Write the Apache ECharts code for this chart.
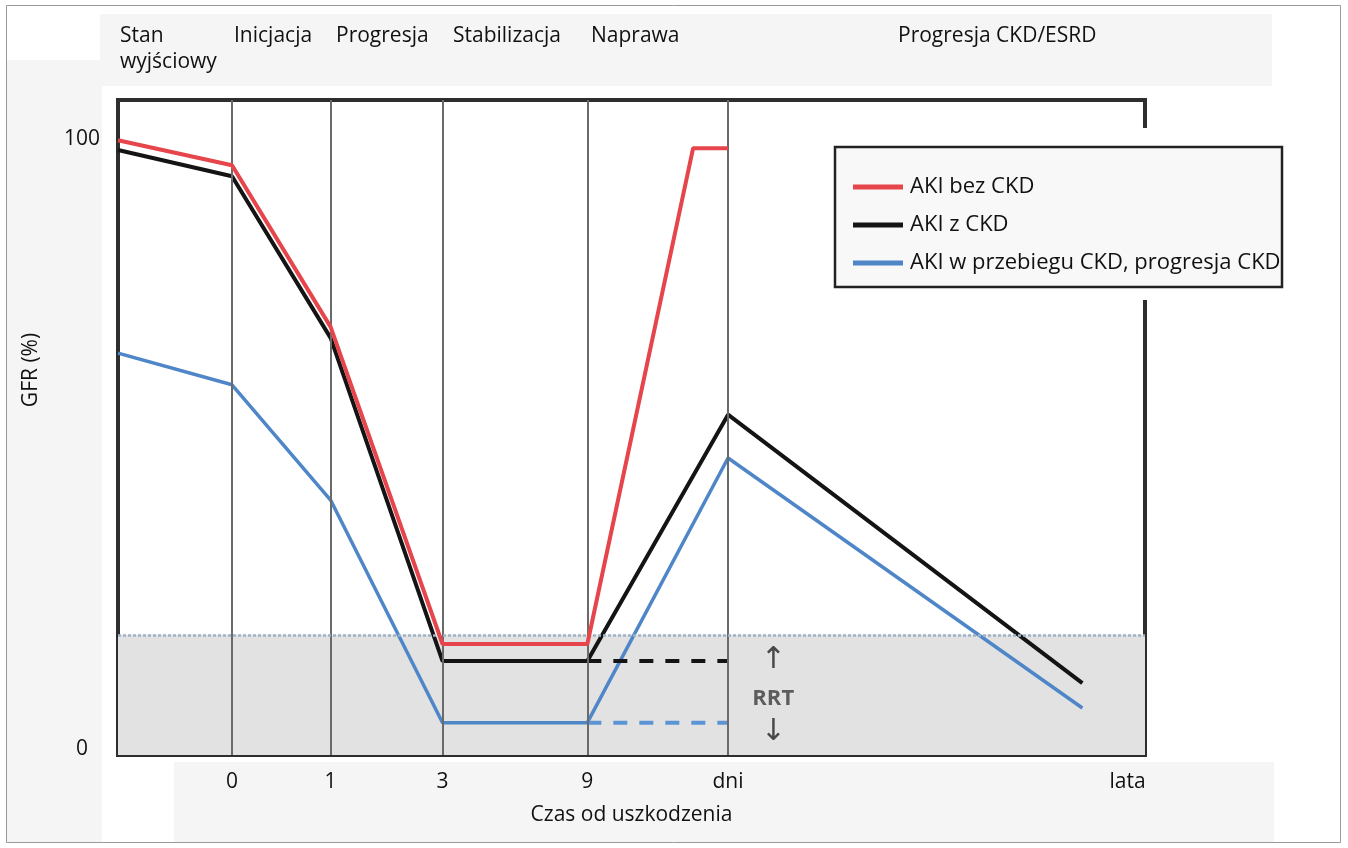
<!DOCTYPE html>
<html>
<head>
<meta charset="utf-8">
<script src="https://cdn.jsdelivr.net/npm/echarts@6/dist/echarts.min.js"></script>
<style>
html,body{margin:0;padding:0;background:#fff;}
#chart{width:1348px;height:848px;}
</style>
</head>
<body>
<div id="chart"></div>
<script>
// ---- data ----
const xTickLabels = ['0', '1', '3', '9', 'dni', 'lata'];
const xTickPos = [11.1, 20.7, 31.6, 45.7, 59.4, 98.3];
const stageLines = [11.1, 20.7, 31.6, 45.7, 59.4];
const stageNames = ['Stan\nwyjściowy', 'Inicjacja', 'Progresja', 'Stabilizacja', 'Naprawa', 'Progresja CKD/ESRD'];
const yTickVals = [0, 100];

const redX = [0, 11.1, 20.7, 31.6, 45.7, 56.0, 59.4];
const redY = [99.8, 95.7, 69.2, 17.2, 17.2, 98.5, 98.5];
const blackX = [0, 11.1, 20.7, 31.6, 45.7, 59.4, 93.9];
const blackY = [98.2, 93.9, 67.4, 14.4, 14.4, 54.8, 10.8];
const blueX = [0, 11.1, 20.7, 31.6, 45.7, 59.4, 93.9];
const blueY = [64.9, 59.7, 40.8, 4.3, 4.3, 47.7, 6.7];
const dashX = [45.7, 59.4];
const blackDashY = [14.4, 14.4];
const blueDashY = [4.3, 4.3];
const rrtLevel = 18.7;
const rrtX = 63.8;
const rrtMarks = [['↑', 14.6], ['RRT', 8.2], ['↓', 2.8]];

const seriesNames = ['AKI bez CKD', 'AKI z CKD', 'AKI w przebiegu CKD, progresja CKD'];
const RED = '#e5454b', BLACK = '#141414', BLUE = '#4f86c8';
const FONT = 'Open Sans';

const zip = (xs, ys) => xs.map((x, i) => [x, ys[i]]);

const chart = echarts.init(document.getElementById('chart'), null, {renderer: 'canvas'});

const headerLeft = [120, 234, 336, 453, 591, 898];

const graphics = [
  // light grey panels of the original figure
  {type: 'rect', z: -10, shape: {x: 100, y: 14, width: 1172, height: 72}, style: {fill: '#f5f5f5'}},
  {type: 'rect', z: -10, shape: {x: 7, y: 60, width: 95, height: 782}, style: {fill: '#f5f5f5'}},
  {type: 'rect', z: -10, shape: {x: 174, y: 762, width: 1100, height: 80}, style: {fill: '#f5f5f5'}},
  {type: 'rect', z: -9, shape: {x: 6.5, y: 5.5, width: 1334, height: 837}, style: {fill: 'none', stroke: '#9a9a9a', lineWidth: 1}},
  // legend backdrop and box
  {type: 'rect', z: 54, shape: {x: 826, y: 128, width: 470, height: 172}, style: {fill: '#ffffff'}},
  {type: 'rect', z: 55, shape: {x: 835, y: 147, width: 447, height: 140}, style: {fill: '#f8f8f8', stroke: '#222', lineWidth: 2.5}},
  // y axis title
  {type: 'text', z: 5, x: 31, y: 370, rotation: Math.PI / 2,
   style: {text: 'GFR (%)', font: '21px "Open Sans"', fill: '#111', textAlign: 'center', textVerticalAlign: 'middle'}}
];
stageNames.forEach((n, i) => {
  graphics.push({type: 'text', z: 5, x: headerLeft[i], y: 23,
    style: {text: n, font: '21px "Open Sans"', fill: '#111', textAlign: 'left', textVerticalAlign: 'top', lineHeight: 26}});
});

const option = {
  backgroundColor: '#ffffff',
  animation: false,
  textStyle: {fontFamily: FONT},
  grid: {left: 118, right: 203, top: 100, bottom: 93, show: true, borderColor: '#2e2e2e', borderWidth: 4, backgroundColor: '#ffffff', containLabel: false},
  xAxis: {
    type: 'value', min: 0, max: 100,
    name: 'Czas od uszkodzenia', nameLocation: 'middle', nameGap: 50,
    nameTextStyle: {fontSize: 21, color: '#111', fontFamily: FONT},
    axisLine: {show: false}, axisTick: {show: false}, splitLine: {show: false},
    axisLabel: {
      customValues: xTickPos, margin: 17, fontSize: 21, color: '#111', fontFamily: FONT,
      formatter: v => {
        let best = 0;
        xTickPos.forEach((p, i) => { if (Math.abs(p - v) < Math.abs(xTickPos[best] - v)) best = i; });
        return xTickLabels[best];
      }
    }
  },
  yAxis: {
    type: 'value', min: -1, max: 106.4,
    axisLine: {show: false}, axisTick: {show: false}, splitLine: {show: false},
    axisLabel: {customValues: yTickVals, align: 'center', margin: 36, fontSize: 21, color: '#111', fontFamily: FONT}
  },
  legend: {
    data: seriesNames, orient: 'vertical', left: 853, top: 176, padding: 0, itemGap: 16,
    icon: 'rect', itemWidth: 50, itemHeight: 5, z: 60,
    textStyle: {fontSize: 22, color: '#111', fontFamily: FONT, padding: [0, 0, 0, 2]}
  },
  graphic: graphics,
  series: [
    { // RRT shaded zone
      type: 'line', name: '_zone', data: [], z: 1, silent: true,
      markArea: {silent: true, itemStyle: {color: '#e2e2e2'}, data: [[{yAxis: -1}, {yAxis: rrtLevel}]]}
    },
    { // stage separators and RRT threshold
      type: 'line', name: '_lines', data: [], z: 2, silent: true,
      markLine: {
        silent: true, symbol: 'none', label: {show: false},
        data: stageLines.map(v => ({xAxis: v, lineStyle: {color: '#6a6a6a', width: 2, type: 'solid'}}))
          .concat([{yAxis: rrtLevel, lineStyle: {color: '#9fb2c6', width: 2.5, type: [3, 2]}}])
      }
    },
    {type: 'line', name: seriesNames[1], data: zip(blackX, blackY), z: 4, showSymbol: false, symbol: 'none',
     lineStyle: {color: BLACK, width: 4}, itemStyle: {color: BLACK}},
    {type: 'line', name: seriesNames[0], data: zip(redX, redY), z: 5, showSymbol: false, symbol: 'none',
     lineStyle: {color: RED, width: 4}, itemStyle: {color: RED}},
    {type: 'line', name: seriesNames[2], data: zip(blueX, blueY), z: 4, showSymbol: false, symbol: 'none',
     lineStyle: {color: BLUE, width: 3.5}, itemStyle: {color: BLUE}},
    {type: 'line', name: '_blackDash', data: zip(dashX, blackDashY), z: 4, showSymbol: false, symbol: 'none',
     lineStyle: {color: BLACK, width: 4, type: [14, 12]}},
    {type: 'line', name: '_blueDash', data: zip(dashX, blueDashY), z: 4, showSymbol: false, symbol: 'none',
     lineStyle: {color: '#5b95d6', width: 4, type: [14, 12]}},
    { // RRT annotation
      type: 'scatter', name: '_rrt', z: 6, silent: true, symbolSize: 0,
      data: rrtMarks.map(m => ({
        value: [rrtX, m[1]], name: m[0],
        label: m[0] === 'RRT'
          ? {fontSize: 22, fontWeight: 'bold', color: '#3c3c3c', fontFamily: FONT}
          : {fontSize: 30, fontWeight: 'normal', color: '#222', fontFamily: 'DejaVu Sans'}
      })),
      label: {show: true, position: 'inside', formatter: p => p.name}
    }
  ]
};
chart.setOption(option);
</script>
</body>
</html>
